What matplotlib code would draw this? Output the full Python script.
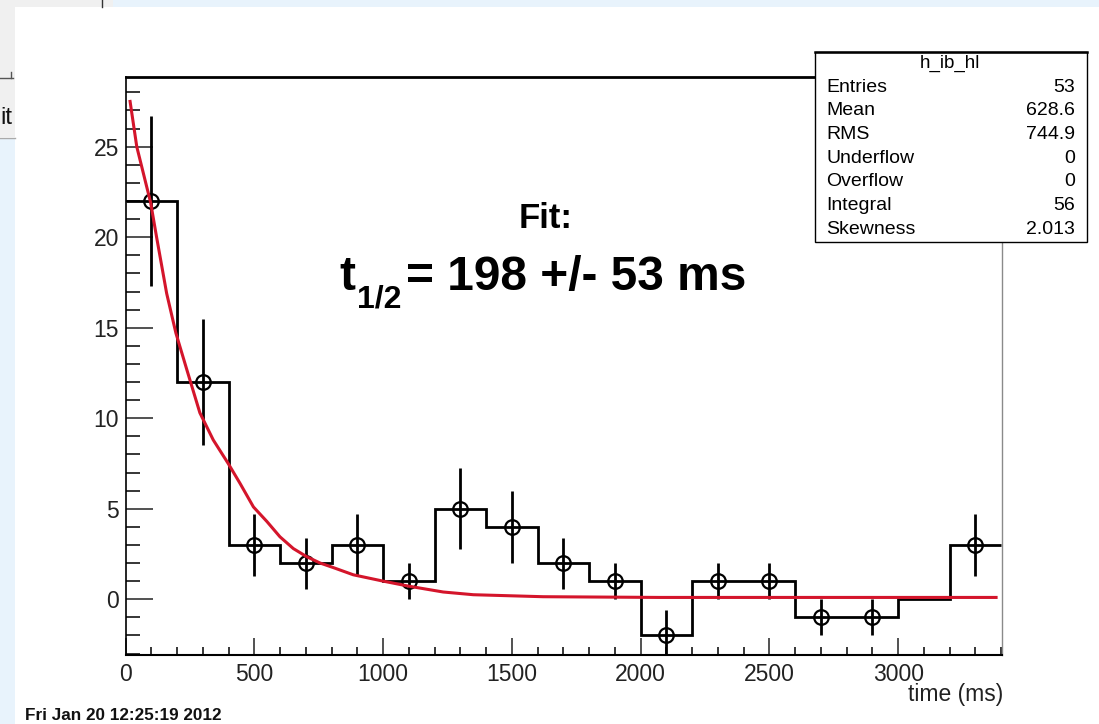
import matplotlib
matplotlib.use('Agg')
import matplotlib.pyplot as plt
from matplotlib.patches import Rectangle
from matplotlib.lines import Line2D
from matplotlib.ticker import MultipleLocator

plt.rcParams['font.family'] = ['Liberation Sans', 'DejaVu Sans']

# histogram h_ib_hl : 17 bins of 200 ms
edges = [0, 200, 400, 600, 800, 1000, 1200, 1400, 1600, 1800, 2000,
         2200, 2400, 2600, 2800, 3000, 3200, 3400]
counts = [22, 12, 3, 2, 3, 1, 5, 4, 2, 1, -2, 1, 1, -1, -1, 0, 3]
errors = [4.69, 3.46, 1.73, 1.41, 1.73, 1.0, 2.24, 2.0, 1.41, 1.0, 1.41,
          1.0, 1.0, 1.0, 1.0, 0.0, 1.73]

# fit curve
fit_t = [17, 43, 97, 120, 159, 195, 237, 288, 340, 398, 444, 496, 548, 599,
         651, 703, 755, 806, 884, 1000, 1100, 1233, 1350, 1621, 2075, 3380]
fit_y = [27.5, 25.0, 21.9, 20.0, 16.9, 14.7, 12.7, 10.3, 8.8, 7.5, 6.4, 5.1,
         4.3, 3.45, 2.8, 2.35, 2.0, 1.75, 1.35, 1.0, 0.72, 0.4, 0.25, 0.14, 0.1, 0.1]

stat_names = ['Entries', 'Mean', 'RMS', 'Underflow', 'Overflow', 'Integral', 'Skewness']
stat_vals = ['53', '628.6', '744.9', '0', '0', '56', '2.013']

W, H = 1099, 724
fig = plt.figure(figsize=(W/100, H/100), dpi=100, facecolor='white')

def fx(x):
    return x/W

def fy(y):
    return 1 - y/H

def box(x0, y0, x1, y1, **kw):
    r = Rectangle((fx(x0), fy(y1)), fx(x1)-fx(x0), fy(y0)-fy(y1),
                  transform=fig.transFigure, **kw)
    fig.add_artist(r)
    return r

# leftovers of the ROOT browser window
box(0, 0, 113, 7, facecolor='#f0f0f0', edgecolor='none', zorder=1)
box(113, 0, W, 7, facecolor='#e8f3fc', edgecolor='none', zorder=1)
box(0, 7, 15, 137, facecolor='#f0f0f0', edgecolor='none', zorder=1)
box(0, 139, 15, H, facecolor='#e8f3fc', edgecolor='none', zorder=1)
fig.add_artist(Line2D([fx(102), fx(102)], [fy(0), fy(7)], color='#333', lw=1, transform=fig.transFigure))
fig.add_artist(Line2D([fx(0), fx(13)], [fy(78), fy(78)], color='#555', lw=1, transform=fig.transFigure))
fig.add_artist(Line2D([fx(11), fx(11)], [fy(72), fy(78)], color='#555', lw=1, transform=fig.transFigure))
fig.add_artist(Line2D([fx(0), fx(15)], [fy(138), fy(138)], color='#aaa', lw=1, transform=fig.transFigure))
fig.text(fx(0.5), fy(118), 'it', fontsize=17, va='center', ha='left', color='#111')

ax = fig.add_axes([fx(125.7), fy(655), fx(1002) - fx(125.7), fy(77) - fy(655)])
ax.set_facecolor('white')

ax.stairs(counts, edges, baseline=None, color='black', lw=2.0, zorder=3)

centers = [(edges[i] + edges[i+1]) / 2 for i in range(len(counts))]
mx = [c for c, v in zip(centers, counts) if v != 0]
my = [v for v in counts if v != 0]
me = [e for e, v in zip(errors, counts) if v != 0]
ax.errorbar(mx, my, yerr=me, fmt='o', ms=10.5, mfc='none', mec='black',
            mew=1.6, ecolor='black', elinewidth=2.0, capsize=0, zorder=4)

ax.plot(fit_t, fit_y, color='#d4152b', lw=2.2, zorder=5, solid_joinstyle='round')

ax.set_xlim(0, 3403)
ax.set_ylim(-3.08, 28.85)

ax.xaxis.set_major_locator(MultipleLocator(500))
ax.xaxis.set_minor_locator(MultipleLocator(100))
ax.yaxis.set_major_locator(MultipleLocator(5))
ax.yaxis.set_minor_locator(MultipleLocator(1))
ax.tick_params(axis='x', which='major', direction='in', length=12.2, width=1.1,
               labelsize=16.5, pad=6, top=False, colors='#222')
ax.tick_params(axis='x', which='minor', direction='in', length=6, width=1.1, top=False)
ax.tick_params(axis='y', which='major', direction='in', length=19.4, width=1.1,
               labelsize=16.5, pad=5, right=False, colors='#222')
ax.tick_params(axis='y', which='minor', direction='in', length=10, width=1.1, right=False)

ax.spines['top'].set_linewidth(2.0)
ax.spines['left'].set_linewidth(1.2)
ax.spines['bottom'].set_linewidth(1.5)
ax.spines['right'].set_color('#8a8a8a')
ax.spines['right'].set_linewidth(1.0)

fig.text(fx(1003), fy(694), 'time (ms)', fontsize=16.5, ha='right', va='center', color='#222')
fig.text(fx(25), fy(716), 'Fri Jan 20 12:25:19 2012', fontsize=12.3,
         fontweight='bold', ha='left', va='center', color='#111')

# fit result
fig.text(fx(546), fy(219), 'Fit:', fontsize=25, fontweight='bold', ha='center', va='center')
fig.text(fx(339), fy(290), 't', fontsize=34.5, fontweight='bold', ha='left', va='baseline')
fig.text(fx(357), fy(308), '1/2', fontsize=23, fontweight='bold', ha='left', va='baseline')
fig.text(fx(406), fy(290), '= 198 +/- 53 ms', fontsize=34.5, fontweight='bold',
         ha='left', va='baseline')

# stats box
box(815, 52, 1087, 242, facecolor='white', edgecolor='black', lw=1.0, zorder=6)
fig.add_artist(Line2D([fx(815), fx(1087)], [fy(52), fy(52)], color='black',
                      lw=1.8, transform=fig.transFigure, zorder=7))
fig.text(fx(950), fy(63), 'h_ib_hl', fontsize=13.5, ha='center', va='center', zorder=8)
for i, (n, v) in enumerate(zip(stat_names, stat_vals)):
    y = 87 + i*23.7
    fig.text(fx(826), fy(y), n, fontsize=14, ha='left', va='center', zorder=8)
    fig.text(fx(1075), fy(y), v, fontsize=14, ha='right', va='center', zorder=8)

fig.savefig('out.png', dpi=100, facecolor='white')
